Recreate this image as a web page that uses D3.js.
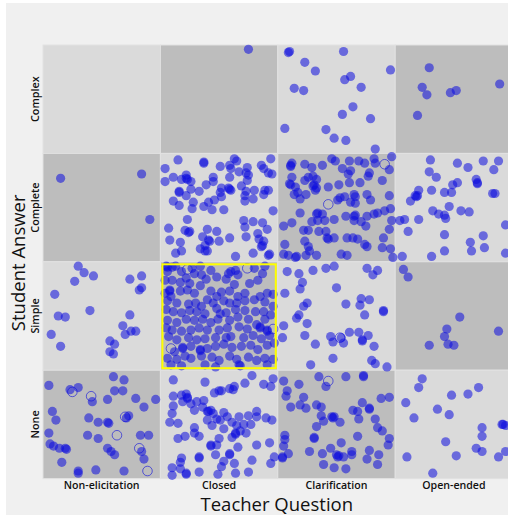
<!DOCTYPE html>
<html><head><meta charset="utf-8">
<script src="https://cdn.jsdelivr.net/npm/d3@7"></script>
<style>
html,body{margin:0;padding:0;background:#fff;}
svg{display:block;}
text{font-family:"Open Sans","Noto Sans",sans-serif;fill:#111;}
</style></head>
<body>
<svg id="chart" width="508" height="515"></svg>
<script>
// ---------- DATA ----------
const teacherQuestions = ["Non-elicitation", "Closed", "Clarification", "Open-ended"];
const studentAnswers = ["Complex", "Complete", "Simple", "None"];
const xTitle = "Teacher Question";
const yTitle = "Student Answer";

// jittered positions of each observation inside its cell: [fraction across, fraction down]
const closedComplex = [[0.75,0.04]];
const clarificationComplex = [[0.09,0.07],[0.10,0.06],[0.56,0.06],[0.23,0.16],[0.32,0.24],[0.96,0.23],[0.57,0.32],[0.62,0.29],[0.14,0.40],[0.22,0.42],[0.71,0.39],[0.64,0.57],[0.55,0.64],[0.79,0.68],[0.06,0.77],[0.41,0.78],[0.48,0.86],[0.58,0.88],[0.83,0.96]];
const openComplex = [[0.29,0.21],[0.23,0.39],[0.27,0.46],[0.47,0.44],[0.52,0.42],[0.89,0.36],[0.19,0.65]];

const nonElicComplete = [[0.15,0.23],[0.84,0.19],[0.91,0.61]];
const closedComplete = [[0.15,0.06],[0.37,0.08],[0.37,0.09],[0.63,0.05],[0.65,0.07],[0.94,0.05],[0.04,0.14],[0.51,0.12],[0.59,0.11],[0.60,0.14],[0.67,0.17],[0.74,0.13],[0.73,0.18],[0.75,0.20],[0.86,0.11],[0.88,0.14],[0.92,0.18],[0.95,0.19],[0.11,0.22],[0.04,0.26],[0.22,0.20],[0.22,0.23],[0.23,0.24],[0.26,0.26],[0.18,0.24],[0.45,0.22],[0.45,0.26],[0.39,0.29],[0.59,0.22],[0.69,0.30],[0.74,0.25],[0.26,0.33],[0.16,0.35],[0.16,0.36],[0.33,0.35],[0.52,0.32],[0.51,0.36],[0.58,0.32],[0.60,0.34],[0.59,0.33],[0.73,0.35],[0.72,0.39],[0.80,0.34],[0.89,0.34],[0.92,0.34],[0.11,0.44],[0.16,0.48],[0.22,0.39],[0.28,0.45],[0.37,0.49],[0.41,0.45],[0.46,0.43],[0.52,0.40],[0.44,0.52],[0.54,0.52],[0.27,0.51],[0.72,0.44],[0.79,0.42],[0.88,0.38],[0.96,0.53],[0.23,0.61],[0.07,0.69],[0.21,0.71],[0.25,0.72],[0.24,0.73],[0.08,0.80],[0.17,0.82],[0.40,0.70],[0.48,0.72],[0.71,0.62],[0.79,0.63],[0.87,0.64],[0.72,0.68],[0.91,0.70],[0.36,0.77],[0.59,0.78],[0.73,0.77],[0.83,0.74],[0.50,0.81],[0.41,0.80],[0.42,0.81],[0.38,0.85],[0.84,0.79],[0.88,0.81],[0.86,0.86],[0.87,0.85],[0.34,0.88],[0.38,0.90],[0.40,0.90],[0.18,0.90],[0.13,0.92],[0.64,0.95],[0.79,0.92],[0.92,0.94],[0.93,0.93]];
const clarificationComplete = [[0.11,0.11],[0.12,0.09],[0.11,0.12],[0.23,0.10],[0.29,0.13],[0.38,0.11],[0.46,0.05],[0.49,0.07],[0.61,0.07],[0.69,0.07],[0.74,0.09],[0.82,0.05],[0.83,0.09],[0.97,0.03],[0.95,0.15],[0.55,0.14],[0.60,0.19],[0.62,0.16],[0.78,0.18],[0.77,0.21],[0.89,0.25],[0.12,0.22],[0.11,0.29],[0.10,0.28],[0.15,0.31],[0.23,0.25],[0.26,0.22],[0.30,0.21],[0.33,0.24],[0.30,0.30],[0.31,0.29],[0.33,0.32],[0.43,0.31],[0.52,0.29],[0.61,0.27],[0.70,0.27],[0.17,0.36],[0.19,0.42],[0.24,0.38],[0.32,0.34],[0.14,0.38],[0.51,0.43],[0.53,0.41],[0.57,0.40],[0.65,0.38],[0.66,0.40],[0.62,0.45],[0.66,0.46],[0.76,0.38],[0.79,0.43],[0.95,0.39],[0.19,0.55],[0.33,0.56],[0.34,0.55],[0.38,0.56],[0.34,0.62],[0.40,0.62],[0.48,0.61],[0.58,0.58],[0.65,0.58],[0.66,0.57],[0.65,0.62],[0.71,0.63],[0.76,0.58],[0.82,0.56],[0.85,0.55],[0.91,0.53],[0.96,0.51],[0.29,0.63],[0.12,0.64],[0.05,0.67],[0.75,0.67],[0.95,0.70],[0.97,0.62],[0.22,0.71],[0.26,0.71],[0.35,0.72],[0.41,0.72],[0.42,0.78],[0.43,0.79],[0.48,0.78],[0.59,0.78],[0.64,0.78],[0.68,0.79],[0.74,0.84],[0.76,0.86],[0.90,0.78],[0.23,0.81],[0.26,0.86],[0.27,0.90],[0.06,0.84],[0.05,0.93],[0.15,0.96],[0.16,0.95],[0.24,0.94],[0.33,0.94],[0.54,0.93],[0.59,0.94],[0.89,0.87],[0.96,0.88],[0.98,0.96],[0.09,0.94]];
const openComplete = [[0.30,0.06],[0.53,0.09],[0.62,0.13],[0.75,0.07],[0.88,0.07],[0.84,0.15],[0.29,0.17],[0.35,0.22],[0.69,0.24],[0.70,0.28],[0.70,0.27],[0.49,0.29],[0.53,0.27],[0.20,0.34],[0.31,0.34],[0.42,0.36],[0.48,0.36],[0.17,0.39],[0.18,0.40],[0.19,0.39],[0.83,0.37],[0.85,0.37],[0.13,0.44],[0.46,0.49],[0.32,0.53],[0.37,0.56],[0.42,0.57],[0.43,0.60],[0.56,0.53],[0.63,0.54],[0.04,0.62],[0.08,0.61],[0.20,0.61],[0.11,0.72],[0.42,0.75],[0.75,0.76],[0.94,0.66],[0.64,0.82],[0.76,0.87],[0.42,0.90],[0.65,0.90],[0.31,0.95],[0.06,0.95],[0.94,0.92]];

const nonElicSimple = [[0.30,0.04],[0.35,0.10],[0.27,0.18],[0.43,0.13],[0.74,0.16],[0.84,0.13],[0.84,0.24],[0.82,0.26],[0.10,0.30],[0.13,0.50],[0.19,0.51],[0.40,0.45],[0.74,0.49],[0.07,0.67],[0.15,0.78],[0.68,0.59],[0.70,0.67],[0.75,0.64],[0.79,0.64],[0.57,0.73],[0.61,0.76],[0.57,0.83],[0.60,0.85]];
const closedSimple = [[0.05,0.04],[0.06,0.05],[0.10,0.05],[0.13,0.04],[0.06,0.09],[0.18,0.09],[0.27,0.06],[0.29,0.11],[0.34,0.04],[0.35,0.12],[0.43,0.08],[0.48,0.14],[0.58,0.11],[0.60,0.09],[0.64,0.08],[0.56,0.16],[0.66,0.12],[0.80,0.06],[0.87,0.11],[0.89,0.04],[0.04,0.17],[0.10,0.17],[0.17,0.19],[0.25,0.20],[0.22,0.15],[0.34,0.22],[0.39,0.16],[0.76,0.20],[0.83,0.17],[0.63,0.21],[0.08,0.26],[0.08,0.27],[0.17,0.27],[0.09,0.32],[0.04,0.29],[0.23,0.26],[0.29,0.29],[0.43,0.27],[0.48,0.32],[0.52,0.28],[0.59,0.27],[0.66,0.32],[0.72,0.29],[0.85,0.32],[0.91,0.29],[0.96,0.30],[0.06,0.36],[0.14,0.38],[0.24,0.39],[0.30,0.38],[0.35,0.41],[0.40,0.35],[0.45,0.38],[0.54,0.36],[0.59,0.38],[0.65,0.38],[0.72,0.36],[0.80,0.35],[0.89,0.37],[0.96,0.41],[0.05,0.44],[0.11,0.46],[0.18,0.47],[0.25,0.45],[0.31,0.46],[0.38,0.48],[0.48,0.43],[0.51,0.48],[0.56,0.47],[0.64,0.44],[0.72,0.45],[0.81,0.46],[0.88,0.46],[0.94,0.49],[0.06,0.54],[0.14,0.56],[0.22,0.53],[0.29,0.54],[0.36,0.53],[0.43,0.56],[0.49,0.53],[0.59,0.54],[0.66,0.51],[0.75,0.53],[0.82,0.58],[0.89,0.53],[0.05,0.61],[0.10,0.63],[0.18,0.64],[0.26,0.63],[0.33,0.61],[0.40,0.63],[0.50,0.63],[0.57,0.61],[0.67,0.60],[0.74,0.62],[0.85,0.60],[0.85,0.61],[0.91,0.63],[0.91,0.64],[0.93,0.68],[0.07,0.69],[0.14,0.72],[0.24,0.70],[0.31,0.72],[0.38,0.71],[0.47,0.70],[0.56,0.70],[0.60,0.69],[0.71,0.70],[0.79,0.68],[0.86,0.71],[0.12,0.83],[0.19,0.79],[0.19,0.80],[0.26,0.78],[0.34,0.81],[0.34,0.82],[0.40,0.80],[0.47,0.78],[0.54,0.76],[0.61,0.79],[0.69,0.78],[0.77,0.77],[0.83,0.81],[0.91,0.77],[0.97,0.75],[0.06,0.89],[0.14,0.90],[0.21,0.87],[0.26,0.89],[0.35,0.87],[0.44,0.88],[0.50,0.91],[0.59,0.87],[0.65,0.90],[0.75,0.88],[0.82,0.91],[0.89,0.89],[0.96,0.90],[0.09,0.95],[0.18,0.96],[0.38,0.95],[0.47,0.97],[0.67,0.95],[0.68,0.96],[0.91,0.95]];
const clarificationSimple = [[0.08,0.09],[0.18,0.11],[0.30,0.08],[0.41,0.06],[0.48,0.04],[0.76,0.06],[0.81,0.12],[0.85,0.08],[0.21,0.19],[0.19,0.25],[0.50,0.24],[0.06,0.29],[0.25,0.38],[0.22,0.41],[0.58,0.39],[0.71,0.34],[0.70,0.40],[0.78,0.35],[0.90,0.45],[0.90,0.46],[0.74,0.49],[0.18,0.49],[0.16,0.52],[0.25,0.57],[0.05,0.59],[0.04,0.70],[0.23,0.68],[0.32,0.76],[0.45,0.69],[0.47,0.74],[0.54,0.70],[0.56,0.75],[0.61,0.65],[0.69,0.65],[0.72,0.72],[0.72,0.73],[0.77,0.68],[0.82,0.78],[0.47,0.89],[0.28,0.95],[0.80,0.91],[0.83,0.94],[0.93,0.97]];
const openSimple = [[0.07,0.07],[0.11,0.14],[0.55,0.51],[0.44,0.62],[0.42,0.69],[0.29,0.77],[0.45,0.76],[0.50,0.77],[0.88,0.64]];

const nonElicNone = [[0.05,0.14],[0.23,0.18],[0.30,0.16],[0.42,0.29],[0.60,0.06],[0.69,0.09],[0.61,0.19],[0.68,0.19],[0.55,0.27],[0.79,0.26],[0.96,0.27],[0.86,0.34],[0.08,0.38],[0.11,0.46],[0.39,0.44],[0.47,0.48],[0.55,0.48],[0.56,0.49],[0.73,0.42],[0.71,0.44],[0.05,0.58],[0.38,0.60],[0.47,0.63],[0.83,0.60],[0.90,0.60],[0.06,0.68],[0.09,0.70],[0.14,0.72],[0.19,0.72],[0.20,0.73],[0.55,0.72],[0.58,0.75],[0.61,0.78],[0.84,0.75],[0.86,0.82],[0.16,0.85],[0.30,0.93],[0.30,0.95],[0.45,0.92],[0.69,0.93]];
const closedNone = [[0.11,0.09],[0.38,0.11],[0.78,0.05],[0.72,0.12],[0.88,0.13],[0.96,0.08],[0.94,0.15],[0.50,0.19],[0.52,0.19],[0.46,0.21],[0.59,0.17],[0.62,0.18],[0.63,0.15],[0.11,0.24],[0.18,0.23],[0.22,0.22],[0.23,0.26],[0.23,0.25],[0.19,0.29],[0.26,0.31],[0.31,0.29],[0.37,0.28],[0.36,0.34],[0.29,0.37],[0.11,0.33],[0.10,0.40],[0.08,0.48],[0.15,0.49],[0.40,0.38],[0.41,0.38],[0.43,0.37],[0.45,0.40],[0.54,0.39],[0.57,0.43],[0.40,0.46],[0.48,0.45],[0.51,0.46],[0.67,0.43],[0.75,0.42],[0.82,0.38],[0.82,0.43],[0.90,0.44],[0.95,0.46],[0.44,0.51],[0.54,0.54],[0.61,0.48],[0.65,0.51],[0.71,0.50],[0.77,0.50],[0.68,0.56],[0.73,0.58],[0.64,0.58],[0.64,0.59],[0.61,0.62],[0.29,0.53],[0.29,0.58],[0.33,0.61],[0.21,0.61],[0.15,0.63],[0.50,0.63],[0.48,0.69],[0.43,0.69],[0.43,0.70],[0.66,0.71],[0.82,0.69],[0.93,0.67],[0.18,0.81],[0.17,0.85],[0.10,0.90],[0.17,0.91],[0.10,0.97],[0.22,0.95],[0.22,0.96],[0.33,0.80],[0.33,0.81],[0.47,0.78],[0.59,0.77],[0.59,0.78],[0.54,0.84],[0.52,0.89],[0.63,0.86],[0.78,0.83],[0.97,0.80],[0.49,0.96],[0.64,0.95],[0.75,0.94],[0.94,0.86],[0.33,0.94]];
const clarificationNone = [[0.05,0.10],[0.18,0.13],[0.35,0.06],[0.41,0.15],[0.58,0.06],[0.73,0.05],[0.73,0.06],[0.08,0.19],[0.07,0.24],[0.22,0.25],[0.11,0.34],[0.19,0.32],[0.24,0.35],[0.33,0.32],[0.37,0.34],[0.37,0.42],[0.39,0.47],[0.46,0.43],[0.47,0.44],[0.48,0.43],[0.53,0.48],[0.64,0.37],[0.68,0.38],[0.72,0.30],[0.78,0.35],[0.78,0.36],[0.88,0.26],[0.95,0.25],[0.69,0.45],[0.83,0.45],[0.85,0.53],[0.89,0.56],[0.33,0.52],[0.31,0.62],[0.31,0.63],[0.06,0.60],[0.06,0.64],[0.05,0.70],[0.04,0.80],[0.04,0.81],[0.09,0.77],[0.27,0.75],[0.38,0.77],[0.45,0.72],[0.50,0.78],[0.51,0.80],[0.52,0.79],[0.56,0.80],[0.54,0.67],[0.63,0.75],[0.63,0.78],[0.68,0.61],[0.78,0.74],[0.86,0.78],[0.94,0.69],[0.95,0.63],[0.39,0.87],[0.48,0.90],[0.58,0.91],[0.76,0.82],[0.85,0.87]];
const openNone = [[0.23,0.08],[0.20,0.16],[0.09,0.30],[0.16,0.44],[0.48,0.23],[0.62,0.22],[0.71,0.16],[0.36,0.36],[0.46,0.41],[0.74,0.53],[0.74,0.61],[0.91,0.50],[0.92,0.50],[0.94,0.51],[0.43,0.66],[0.69,0.72],[0.74,0.75],[0.10,0.80],[0.52,0.79],[0.88,0.80],[0.94,0.75],[0.32,0.95]];

// open (unfilled) markers
const nonElicNoneOpen = [[0.25,0.20],[0.41,0.24],[0.70,0.43],[0.63,0.60],[0.82,0.72],[0.89,0.93]];
const closedSimpleOpen = [[0.23,0.07],[0.74,0.06],[0.96,0.62],[0.09,0.80]];
const clarificationCompleteOpen = [[0.91,0.10],[0.43,0.47]];
const clarificationSimpleOpen = [[0.53,0.70]];
const clarificationNoneOpen = [[0.43,0.10]];

const highlighted = {q: "Closed", a: "Simple"};

// assemble the table the chart is drawn from
const filledCells = [
  {q:"Closed", a:"Complex", pts:closedComplex},
  {q:"Clarification", a:"Complex", pts:clarificationComplex},
  {q:"Open-ended", a:"Complex", pts:openComplex},
  {q:"Non-elicitation", a:"Complete", pts:nonElicComplete},
  {q:"Closed", a:"Complete", pts:closedComplete},
  {q:"Clarification", a:"Complete", pts:clarificationComplete},
  {q:"Open-ended", a:"Complete", pts:openComplete},
  {q:"Non-elicitation", a:"Simple", pts:nonElicSimple},
  {q:"Closed", a:"Simple", pts:closedSimple},
  {q:"Clarification", a:"Simple", pts:clarificationSimple},
  {q:"Open-ended", a:"Simple", pts:openSimple},
  {q:"Non-elicitation", a:"None", pts:nonElicNone},
  {q:"Closed", a:"None", pts:closedNone},
  {q:"Clarification", a:"None", pts:clarificationNone},
  {q:"Open-ended", a:"None", pts:openNone}
];
const openCells = [
  {q:"Non-elicitation", a:"None", pts:nonElicNoneOpen},
  {q:"Closed", a:"Simple", pts:closedSimpleOpen},
  {q:"Clarification", a:"Complete", pts:clarificationCompleteOpen},
  {q:"Clarification", a:"Simple", pts:clarificationSimpleOpen},
  {q:"Clarification", a:"None", pts:clarificationNoneOpen}
];
const flatten = cells => cells.flatMap(c => c.pts.map(p => ({q:c.q, a:c.a, jx:p[0], jy:p[1]})));
const filledDots = flatten(filledCells);
const openDots = flatten(openCells);

// ---------- DRAW ----------
const svg = d3.select("#chart");
const W = 508, H = 515;
const gridLeft = 43, gridTop = 45, cellW = 117.4, cellH = 108.4;

svg.append("rect").attr("x", 6).attr("y", 3).attr("width", W - 6).attr("height", H - 3).attr("fill", "#f0f0f0");

const x = d3.scaleBand().domain(teacherQuestions).range([gridLeft, gridLeft + cellW * teacherQuestions.length]);
const y = d3.scaleBand().domain(studentAnswers).range([gridTop, gridTop + cellH * studentAnswers.length]);
const jx = d3.scaleLinear().domain([0, 1]).range([0, x.bandwidth()]);
const jy = d3.scaleLinear().domain([0, 1]).range([0, y.bandwidth()]);

const grid = d3.cross(studentAnswers, teacherQuestions).map(([a, q]) => ({a, q}));
svg.append("g").selectAll("rect").data(grid).join("rect")
  .attr("x", d => x(d.q)).attr("y", d => y(d.a))
  .attr("width", x.bandwidth()).attr("height", y.bandwidth())
  .attr("fill", d => (teacherQuestions.indexOf(d.q) + studentAnswers.indexOf(d.a)) % 2 === 0 ? "#dadada" : "#bdbdbd")
  .attr("stroke", "#e2e2e2").attr("stroke-width", 1);

svg.append("g").selectAll("circle").data(filledDots).join("circle")
  .attr("cx", d => x(d.q) + jx(d.jx)).attr("cy", d => y(d.a) + jy(d.jy))
  .attr("r", 4.6)
  .attr("fill", "rgb(12,12,222)").attr("fill-opacity", 0.55);

svg.append("g").selectAll("circle").data(openDots).join("circle")
  .attr("cx", d => x(d.q) + jx(d.jx)).attr("cy", d => y(d.a) + jy(d.jy))
  .attr("r", 4.8)
  .attr("fill", "none").attr("stroke", "rgb(12,12,222)").attr("stroke-opacity", 0.6).attr("stroke-width", 1);

svg.append("rect")
  .attr("x", x(highlighted.q) + 2).attr("y", y(highlighted.a) + 2.5)
  .attr("width", x.bandwidth() - 4).attr("height", y.bandwidth() - 4.5)
  .attr("fill", "none").attr("stroke", "#ffff00").attr("stroke-width", 2);

// axis tick labels
const xAxis = d3.axisBottom(x).tickSize(0).tickPadding(0);
const gx = svg.append("g").attr("transform", `translate(0,${gridTop + cellH * 4 + 3})`).call(xAxis);
gx.select(".domain").remove();
gx.selectAll("text").attr("font-size", 10.6).attr("font-weight", 600).attr("fill", "#111")
  .attr("font-family", '"Open Sans", sans-serif');

studentAnswers.forEach(a => {
  svg.append("text")
    .attr("transform", `translate(39,${y(a) + y.bandwidth() / 2}) rotate(-90)`)
    .attr("text-anchor", "middle").attr("font-size", 10.8).attr("font-weight", 600)
    .text(a);
});

// axis titles
svg.append("text").attr("x", gridLeft + cellW * 2 - 1).attr("y", 511)
  .attr("text-anchor", "middle").attr("font-size", 18.5)
  .attr("font-family", '"Liberation Sans", Arial, sans-serif').attr("fill", "#1a1a1a").text(xTitle);
svg.append("text")
  .attr("transform", `translate(24.5,${gridTop + cellH * 2 + 1}) rotate(-90)`)
  .attr("text-anchor", "middle").attr("font-size", 18.5)
  .attr("font-family", '"Liberation Sans", Arial, sans-serif').attr("fill", "#1a1a1a").text(yTitle);
</script>
</body></html>
